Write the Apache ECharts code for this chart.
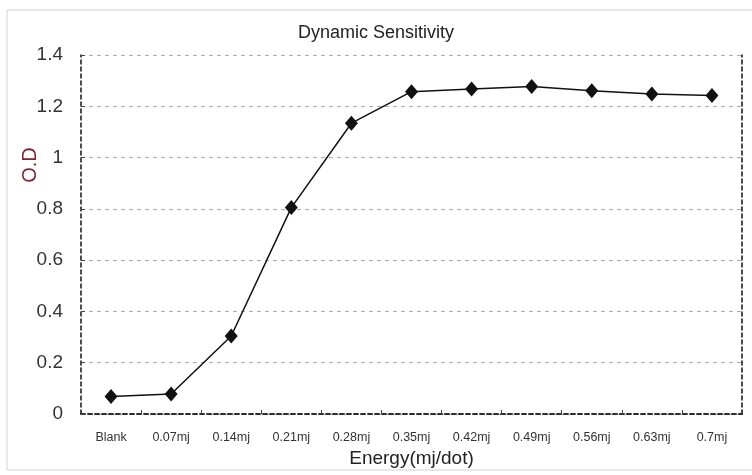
<!DOCTYPE html>
<html>
<head>
<meta charset="utf-8">
<script src="https://cdn.jsdelivr.net/npm/echarts@6/dist/echarts.min.js"></script>
<style>html,body{margin:0;padding:0;background:#fff}#c{width:752px;height:475px}</style>
</head>
<body>
<div id="c"></div>
<script>
var categories = ['Blank','0.07mj','0.14mj','0.21mj','0.28mj','0.35mj','0.42mj','0.49mj','0.56mj','0.63mj','0.7mj'];
var odValues = [0.068, 0.078, 0.304, 0.805, 1.134, 1.257, 1.267, 1.277, 1.261, 1.248, 1.242];
var yTicks = [0, 0.2, 0.4, 0.6, 0.8, 1, 1.2, 1.4];

var chart = echarts.init(document.getElementById('c'));
var dashAxis = {show:true, lineStyle:{color:'#222', width:1.6, type:[4,3]}};
var ff = 'Liberation Sans, Arial';
chart.setOption({
  animation:false,
  backgroundColor:'#fff',
  graphic:[
    {type:'rect', shape:{x:7,y:10,width:760,height:460}, style:{fill:'none', stroke:'#d8d0d0', lineWidth:1}, silent:true},
    {type:'text', x:30, y:165, rotation:Math.PI/2, style:{text:'O.D', fill:'#7a2535', font:'20px Liberation Sans, Arial', align:'center', verticalAlign:'middle'}}
  ],
  title:{text:'Dynamic Sensitivity', left:'center', top:19, textStyle:{fontFamily:ff, fontWeight:'normal', fontSize:18, color:'#222'}},
  grid:{left:81, right:10, top:55, bottom:61},
  xAxis:[{
    type:'category', data:categories, boundaryGap:true, position:'bottom',
    axisLine:dashAxis,
    axisTick:{show:true, inside:true, length:4, lineStyle:{color:'#444'}},
    axisLabel:{margin:17, fontSize:12.5, color:'#333', fontFamily:ff, interval:0},
    name:'Energy(mj/dot)', nameLocation:'middle', nameGap:33,
    nameTextStyle:{fontSize:19, color:'#222', fontFamily:ff}
  },{
    type:'category', data:categories, position:'top', boundaryGap:true,
    axisLine:dashAxis, axisTick:{show:false}, axisLabel:{show:false}
  }],
  yAxis:[{
    type:'value', min:0, max:1.4, interval:0.2,
    axisLine:dashAxis,
    axisTick:{show:true, inside:true, length:4, lineStyle:{color:'#444'}},
    axisLabel:{margin:18, fontSize:19, color:'#333', fontFamily:ff,
      formatter:function(v){var r=yTicks.reduce(function(a,b){return Math.abs(b-v)<Math.abs(a-v)?b:a;}); return String(r);}},
    splitLine:{show:true, lineStyle:{color:'#aaa', width:1, type:[4,4]}}
  },{
    type:'value', min:0, max:1.4, interval:0.2, position:'right',
    axisLine:dashAxis, axisTick:{show:false}, axisLabel:{show:false}, splitLine:{show:false}
  }],
  series:[{
    type:'line', data:odValues, xAxisIndex:0, yAxisIndex:0,
    symbol:'diamond', symbolSize:[13,15],
    lineStyle:{color:'#111', width:1.5},
    itemStyle:{color:'#111'}
  }]
});
</script>
</body>
</html>
